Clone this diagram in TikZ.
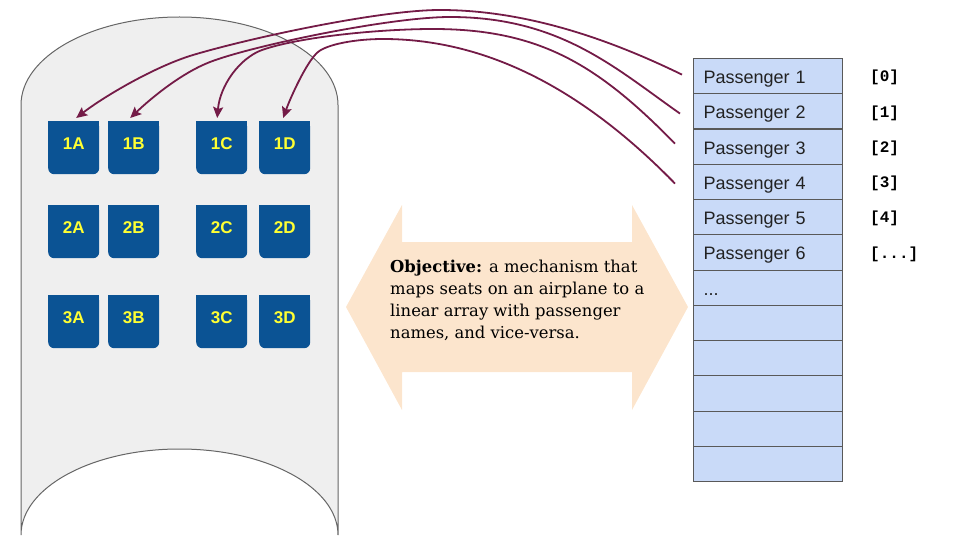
\documentclass[tikz,border=0pt]{standalone}
\usepackage{fontspec}
\setmainfont{DejaVu Serif}
\newfontfamily\arialf{Liberation Sans}
\newfontfamily\monof{Liberation Mono}
\usetikzlibrary{arrows.meta}
\definecolor{fusfill}{HTML}{EFEFEF}
\definecolor{fusline}{HTML}{666666}
\definecolor{seatblue}{HTML}{0B5394}
\definecolor{seattxt}{HTML}{FFFF33}
\definecolor{arrfill}{HTML}{FCE5CD}
\definecolor{cellfill}{HTML}{C9DAF8}
\definecolor{cellline}{HTML}{595959}
\definecolor{conncol}{HTML}{741B47}
\definecolor{txtdark}{HTML}{222222}
\newcommand\tdots{...}
\begin{document}
\begin{tikzpicture}[x=1pt,y=-1pt,
  seatbox/.style={fill=seatblue, rounded corners=6pt, minimum width=51pt, minimum height=53pt, inner sep=0pt, anchor=north west, text=seattxt, text height=12pt, text depth=9pt, font=\arialf\bfseries\fontsize{17}{20}\selectfont},
  cellbox/.style={fill=cellfill, draw=cellline, line width=1.2pt, minimum width=149pt, minimum height=35.25pt, text width=129pt, inner xsep=10pt, inner ysep=0pt, text height=19pt, text depth=4pt, align=left, anchor=north west, text=txtdark, font=\arialf\fontsize{18}{21}\selectfont},
  idxlabel/.style={anchor=west, inner sep=0pt, text height=14pt, text depth=1.4pt, font=\monof\bfseries\fontsize{16}{18}\selectfont},
  conn/.style={draw=conncol, line width=1.8pt, -{Stealth[length=11pt,width=10pt,inset=2pt]}},
  objtext/.style={align=left, inner sep=0pt, anchor=north west, font=\fontsize{16.4}{22}\selectfont}
]
\useasboundingbox (0,0) rectangle (960,540);
% fuselage
\filldraw[fill=fusfill, draw=fusline, line width=1pt]
  (21,535) -- (21,105) .. controls (21,56.4) and (92,17) .. (179.5,17)
  .. controls (267,17) and (338,56.4) .. (338,105) -- (338,535)
  .. controls (338,487.5) and (267,449) .. (179.5,449)
  .. controls (92,449) and (21,487.5) .. (21,535) -- cycle;
% seats
\foreach \r/\y in {1/121,2/205,3/295}{
  \foreach \c/\x in {A/48,B/108,C/196,D/259}{
    \fill[seatblue] (\x,\y) rectangle ++(51,27);
    \node[seatbox] (s\r\c) at (\x,\y) {\r\c};
  }
}
% double arrow
\fill[arrfill] (346,307) -- (402,205) -- (402,242) -- (632,242) -- (632,205) -- (688,307)
  -- (632,410) -- (632,372) -- (402,372) -- (402,410) -- cycle;
\node[objtext] (obj) at (390,260) {\textbf{Objective:} a mechanism that\\maps seats on an airplane to a\\linear array with passenger\\names, and vice-versa.};
% array
\foreach \i/\t in {1/Passenger 1,2/Passenger 2,3/Passenger 3,4/Passenger 4,5/Passenger 5,6/Passenger 6,7/\tdots,8/,9/,10/,11/,12/}{
  \node[cellbox] (p\i) at (693,{58+35.25*(\i-1)}) {\t};
}
\foreach \i/\t in {1/[0],2/[1],3/[2],4/[3],5/[4],6/[\tdots]}{
  \node[idxlabel] (x\i) at (870,{58+35.25*(\i-0.5)}) {\t};
}
% connectors
\draw[conn] ([xshift=-11pt,yshift=1.6pt]p1.west)
  .. controls (615,42) and (530,10) .. (440,10)
  .. controls (380,10) and (250.5,37.8) .. (193,55)
  .. controls (154.7,66.5) and (103.7,96.7) .. ([xshift=2.5pt,yshift=3pt]s1A.north);
\draw[conn] ([xshift=-13pt,yshift=-2.1pt]p2.west)
  .. controls (615,68) and (560,17) .. (450,17)
  .. controls (390,17) and (251.9,45.8) .. (210,62)
  .. controls (182,72.8) and (152,97.3) .. ([xshift=-3.5pt,yshift=3pt]s1B.north);
\draw[conn] ([xshift=-18pt,yshift=3.1pt]p3.west)
  .. controls (598,65) and (540,29) .. (433,29)
  .. controls (380,29) and (299.6,36.8) .. (262,50)
  .. controls (240,58) and (220,85) .. ([xshift=-4.5pt,yshift=3pt]s1C.north);
\draw[conn] ([xshift=-18pt,yshift=-1.6pt]p4.west)
  .. controls (577,83) and (480,39) .. (383,39)
  .. controls (355,39) and (327.2,44.4) .. (318,52)
  .. controls (306.5,61.5) and (289.8,99.2) .. ([xshift=-1.5pt,yshift=3pt]s1D.north);
\end{tikzpicture}
\end{document}
